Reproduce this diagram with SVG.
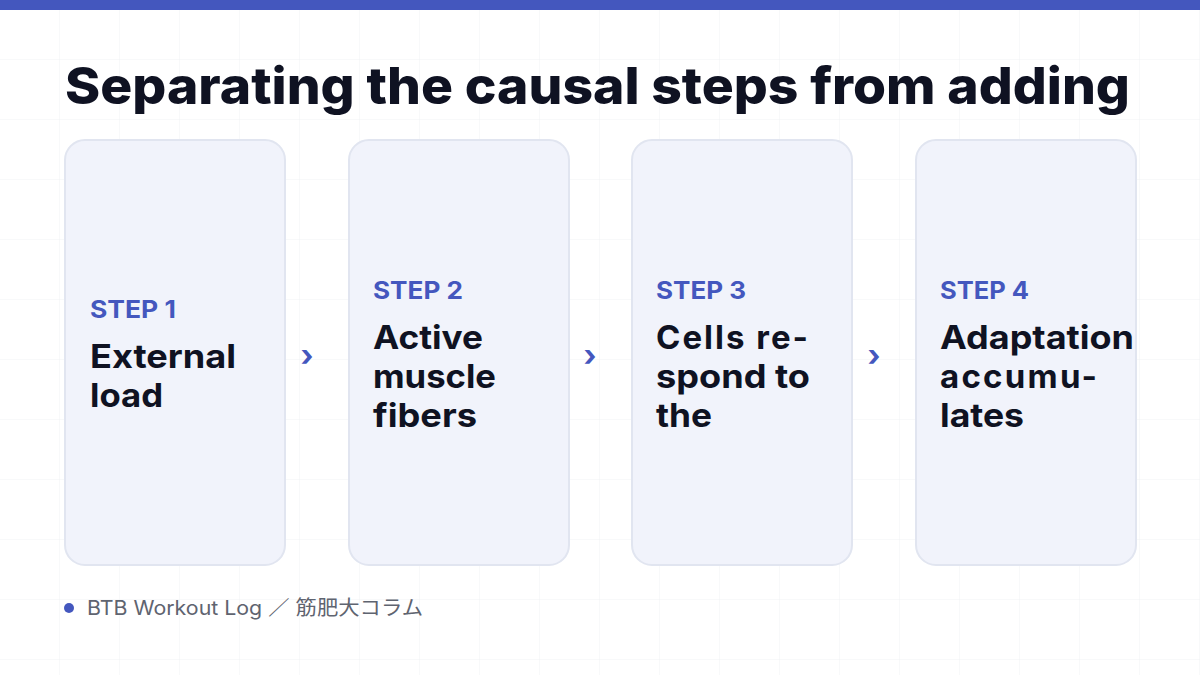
<svg xmlns="http://www.w3.org/2000/svg" width="1200" height="675" viewBox="0 0 1200 675">
<defs>
<pattern id="grid" width="60" height="60" patternUnits="userSpaceOnUse"><path d="M60 0V60H0" fill="none" stroke="#F1F2F5" stroke-width="1"/></pattern>
<style>
.card{fill:#F1F3FB;stroke:#E1E5F0;stroke-width:2}
.step{font-family:Inter,"Liberation Sans",sans-serif;font-weight:700;font-size:24px;fill:#4457BE}
.lab{font-family:Inter,"Liberation Sans",sans-serif;font-weight:700;font-size:33px;fill:#0F1222}
.arr{font-family:Inter,"Liberation Sans",sans-serif;font-weight:700;font-size:30px;fill:#4457BE}
</style>
</defs>
<rect width="1200" height="675" fill="#fff"/>
<rect width="1200" height="675" fill="url(#grid)"/>
<rect width="1200" height="10" fill="#4457BE"/>
<text x="65" y="104" font-family="Inter,'Liberation Sans',sans-serif" font-weight="800" font-size="51" fill="#0F1222" textLength="1065" lengthAdjust="spacingAndGlyphs">Separating the causal steps from adding</text>
<g id="n1"><rect class="card" x="65" y="140" width="220" height="425" rx="20"/><text class="step" x="90" y="318" textLength="86" lengthAdjust="spacingAndGlyphs">STEP 1</text><text class="lab" x="90" y="368" textLength="146" lengthAdjust="spacingAndGlyphs">External</text><text class="lab" x="90" y="407" textLength="73" lengthAdjust="spacingAndGlyphs">load</text></g>
<g id="n2"><rect class="card" x="349" y="140" width="220" height="425" rx="20"/><text class="step" x="373" y="299" textLength="90" lengthAdjust="spacingAndGlyphs">STEP 2</text><text class="lab" x="373" y="349" textLength="110" lengthAdjust="spacingAndGlyphs">Active</text><text class="lab" x="373" y="388" textLength="123" lengthAdjust="spacingAndGlyphs">muscle</text><text class="lab" x="373" y="427" textLength="104" lengthAdjust="spacingAndGlyphs">fibers</text></g>
<g id="n3"><rect class="card" x="632" y="140" width="220" height="425" rx="20"/><text class="step" x="656" y="299" textLength="90" lengthAdjust="spacingAndGlyphs">STEP 3</text><text class="lab" x="656" y="349" textLength="152" lengthAdjust="spacing">Cells re-</text><text class="lab" x="656" y="388" textLength="154" lengthAdjust="spacingAndGlyphs">spond to</text><text class="lab" x="656" y="427" textLength="56" lengthAdjust="spacingAndGlyphs">the</text></g>
<g id="n4"><rect class="card" x="916" y="140" width="220" height="425" rx="20"/><text class="step" x="940" y="299" textLength="89" lengthAdjust="spacingAndGlyphs">STEP 4</text><text class="lab" x="940" y="349" textLength="194" lengthAdjust="spacingAndGlyphs">Adaptation</text><text class="lab" x="940" y="388" textLength="157" lengthAdjust="spacing">accumu-</text><text class="lab" x="940" y="427" textLength="84" lengthAdjust="spacingAndGlyphs">lates</text></g>
<g id="connectors"><text class="arr" x="307" y="366" text-anchor="middle">›</text><text class="arr" x="590" y="366" text-anchor="middle">›</text><text class="arr" x="874" y="366" text-anchor="middle">›</text></g>
<g id="footer"><circle cx="69" cy="608" r="5" fill="#4457BE"/><text x="87" y="615" font-family="Inter,'Liberation Sans','Noto Sans CJK JP',sans-serif" font-size="20" fill="#5F6470" textLength="336" lengthAdjust="spacingAndGlyphs">BTB Workout Log ／ 筋肥大コラム</text></g>
</svg>
